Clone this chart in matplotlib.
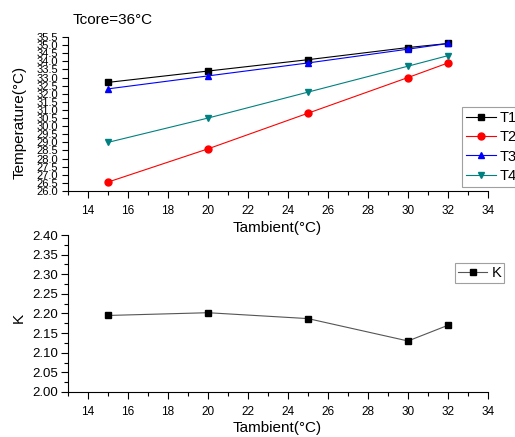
import numpy as np
import matplotlib.pyplot as plt
from matplotlib.ticker import MultipleLocator

plt.rcParams['font.family'] = ['Liberation Sans', 'DejaVu Sans']

t_amb = [15, 20, 25, 30, 32]
T1 = [32.7, 33.4, 34.1, 34.85, 35.1]
T2 = [26.55, 28.6, 30.8, 33.0, 33.9]
T3 = [32.3, 33.1, 33.9, 34.75, 35.1]
T4 = [29.0, 30.5, 32.1, 33.7, 34.35]
K = [2.195, 2.202, 2.187, 2.130, 2.170]

W, H = 515, 437
fig = plt.figure(figsize=(W / 100, H / 100), dpi=100)

def px_axes(x0, y0, x1, y1):
    return fig.add_axes([x0 / W, 1 - y1 / H, (x1 - x0) / W, (y1 - y0) / H])

def style(ax):
    for s in ['top', 'right']:
        ax.spines[s].set_visible(False)
    ax.set_xlim(13, 34)
    ax.xaxis.set_major_locator(MultipleLocator(2))
    ax.xaxis.set_minor_locator(MultipleLocator(1))
    ax.tick_params(which='major', direction='out', length=5, width=0.8, labelsize=8.5)
    ax.tick_params(which='minor', direction='out', length=3, width=0.8)
    ax.tick_params(axis='x', pad=5)

# upper panel: temperatures
ax1 = px_axes(68, 37, 488, 191)
style(ax1)
ax1.plot(t_amb, T1, color='black', marker='s', ms=5, lw=0.8, label='T1')
ax1.plot(t_amb, T2, color='red', marker='o', ms=5, lw=0.8, label='T2')
ax1.plot(t_amb, T3, color='blue', marker='^', ms=5, lw=0.8, label='T3')
ax1.plot(t_amb, T4, color='#008080', marker='v', ms=5, lw=0.8, label='T4')
ax1.set_ylim(26.0, 35.5)
ax1.yaxis.set_major_locator(MultipleLocator(0.5))
ax1.yaxis.set_major_formatter('{x:.1f}')
ax1.tick_params(axis='y', labelsize=8, pad=3, length=4)
ax1.set_ylabel('Temperature(°C)', fontsize=11)
ax1.yaxis.set_label_coords(27 / W, 1 - 122 / H, transform=fig.transFigure)
ax1.set_xlabel('Tambient(°C)', fontsize=11)
ax1.xaxis.set_label_coords(277 / W, 1 - 221 / H, transform=fig.transFigure)
ax1.text(73 / W, 1 - 20 / H, 'Tcore=36°C', transform=fig.transFigure,
         fontsize=11, va='center')
leg1 = ax1.legend(loc='upper left', bbox_to_anchor=(462 / W, 1 - 107 / H),
                  bbox_transform=fig.transFigure, frameon=True, fancybox=False,
                  edgecolor='#888888', fontsize=10.5, handlelength=2.0,
                  borderpad=0.3, labelspacing=0.35, handletextpad=0.3,
                  borderaxespad=0)
leg1.get_frame().set_linewidth(0.8)

# lower panel: K ratio
ax2 = px_axes(68, 235, 488, 392)
style(ax2)
ax2.plot(t_amb, K, color='#555555', marker='s', ms=5, lw=0.8,
         markerfacecolor='black', markeredgecolor='black', label='K')
ax2.set_ylim(2.00, 2.40)
ax2.yaxis.set_major_locator(MultipleLocator(0.05))
ax2.yaxis.set_minor_locator(MultipleLocator(0.025))
ax2.yaxis.set_major_formatter('{x:.2f}')
ax2.tick_params(axis='y', labelsize=9.5, pad=2)
ax2.set_ylabel('K', fontsize=11)
ax2.yaxis.set_label_coords(26 / W, 1 - 318 / H, transform=fig.transFigure)
ax2.set_xlabel('Tambient(°C)', fontsize=11)
ax2.xaxis.set_label_coords(277 / W, 1 - 421 / H, transform=fig.transFigure)
leg2 = ax2.legend(loc='upper left', bbox_to_anchor=(455 / W, 1 - 263 / H),
                  bbox_transform=fig.transFigure, frameon=True, fancybox=False,
                  edgecolor='#888888', fontsize=10.5, handlelength=2.0,
                  borderpad=0.2, handletextpad=0.3, borderaxespad=0)
leg2.get_frame().set_linewidth(0.8)

fig.savefig('out.png', dpi=100)
